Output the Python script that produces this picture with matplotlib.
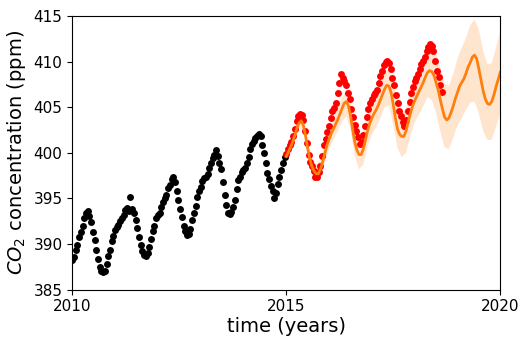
import numpy as np
import matplotlib
matplotlib.use("Agg")
import matplotlib.pyplot as plt

# observed weekly-ish CO2 values, training part (black)
t_train = [2010.00, 2010.04, 2010.08, 2010.12, 2010.16, 2010.20, 2010.24, 2010.28, 2010.32, 2010.36,
           2010.40, 2010.44, 2010.48, 2010.52, 2010.56, 2010.60, 2010.64, 2010.68, 2010.72, 2010.76,
           2010.80, 2010.84, 2010.88, 2010.92, 2010.96, 2011.00, 2011.04, 2011.08, 2011.12, 2011.16,
           2011.20, 2011.24, 2011.28, 2011.32, 2011.36, 2011.40, 2011.44, 2011.48, 2011.52, 2011.56,
           2011.60, 2011.64, 2011.68, 2011.72, 2011.76, 2011.80, 2011.84, 2011.88, 2011.92, 2011.96,
           2012.00, 2012.04, 2012.08, 2012.12, 2012.16, 2012.20, 2012.24, 2012.28, 2012.32, 2012.36,
           2012.40, 2012.44, 2012.48, 2012.52, 2012.56, 2012.60, 2012.64, 2012.68, 2012.72, 2012.76,
           2012.80, 2012.84, 2012.88, 2012.92, 2012.96, 2013.00, 2013.04, 2013.08, 2013.12, 2013.16,
           2013.20, 2013.24, 2013.28, 2013.32, 2013.36, 2013.40, 2013.44, 2013.48, 2013.52, 2013.56,
           2013.60, 2013.64, 2013.68, 2013.72, 2013.76, 2013.80, 2013.84, 2013.88, 2013.92, 2013.96,
           2014.00, 2014.04, 2014.08, 2014.12, 2014.16, 2014.20, 2014.24, 2014.28, 2014.32, 2014.36,
           2014.40, 2014.44, 2014.48, 2014.52, 2014.56, 2014.60, 2014.64, 2014.68, 2014.72, 2014.76,
           2014.80, 2014.84, 2014.88, 2014.92, 2014.96]
co2_train = [388.2, 388.6, 389.3, 389.9, 390.8, 391.3, 392.0, 392.9, 393.4, 393.6,
             393.1, 392.4, 391.3, 390.4, 389.3, 388.4, 387.5, 387.0, 386.9, 387.1,
             387.8, 388.7, 389.4, 390.3, 390.9, 391.5, 391.9, 392.1, 392.5, 392.9,
             393.2, 393.7, 394.0, 393.6, 395.1, 393.8, 393.4, 392.6, 391.8, 390.8,
             389.9, 389.2, 388.8, 388.7, 389.0, 389.7, 390.6, 391.4, 392.0, 392.8,
             393.2, 393.4, 394.1, 394.6, 395.0, 395.4, 396.1, 396.5, 397.1, 397.3,
             396.8, 395.8, 394.8, 393.8, 393.0, 392.0, 391.4, 391.0, 391.1, 391.7,
             392.6, 393.4, 394.2, 395.1, 395.8, 396.3, 396.9, 397.2, 397.3, 397.7,
             398.3, 398.9, 399.4, 399.8, 400.3, 399.7, 398.9, 398.2, 396.8, 395.4,
             394.3, 393.4, 393.3, 393.5, 394.1, 394.8, 396.0, 397.0, 397.3, 397.9,
             398.1, 398.3, 398.9, 399.5, 400.4, 401.0, 401.3, 401.6, 401.8, 402.1,
             401.8, 400.9, 400.0, 398.9, 397.8, 397.1, 396.4, 395.8, 395.0, 395.6,
             396.6, 397.4, 398.1, 398.9, 399.5]

# held out observations (red)
t_test = [2015.00, 2015.04, 2015.08, 2015.12, 2015.16, 2015.20, 2015.24, 2015.28, 2015.32, 2015.36,
          2015.40, 2015.44, 2015.48, 2015.52, 2015.56, 2015.60, 2015.64, 2015.68, 2015.72, 2015.76,
          2015.80, 2015.84, 2015.88, 2015.92, 2015.96, 2016.00, 2016.04, 2016.08, 2016.12, 2016.16,
          2016.20, 2016.24, 2016.28, 2016.32, 2016.36, 2016.40, 2016.44, 2016.48, 2016.52, 2016.56,
          2016.60, 2016.64, 2016.68, 2016.72, 2016.76, 2016.80, 2016.84, 2016.88, 2016.92, 2016.96,
          2017.00, 2017.04, 2017.08, 2017.12, 2017.16, 2017.20, 2017.24, 2017.28, 2017.32, 2017.36,
          2017.40, 2017.44, 2017.48, 2017.52, 2017.56, 2017.60, 2017.64, 2017.68, 2017.72, 2017.76,
          2017.80, 2017.84, 2017.88, 2017.92, 2017.96, 2018.00, 2018.04, 2018.08, 2018.12, 2018.16,
          2018.20, 2018.24, 2018.28, 2018.32, 2018.36, 2018.40, 2018.44, 2018.48, 2018.52, 2018.56,
          2018.60, 2018.64]
co2_test = [399.9, 400.4, 400.8, 401.2, 401.8, 402.6, 403.5, 404.0, 404.3, 404.1,
            403.6, 402.4, 401.1, 399.8, 399.0, 398.5, 398.0, 397.3, 397.4, 397.9,
            398.6, 399.7, 400.9, 401.5, 402.3, 402.9, 403.8, 404.6, 404.9, 405.4,
            406.6, 407.6, 408.6, 408.2, 407.9, 407.4, 406.6, 405.9, 404.8, 403.9,
            403.0, 402.4, 401.7, 401.0, 401.2, 401.9, 402.9, 403.9, 404.8, 405.5,
            405.9, 406.3, 406.5, 406.9, 407.7, 408.4, 409.0, 409.6, 409.9, 410.1,
            409.8, 409.2, 408.2, 407.4, 406.3, 405.4, 404.6, 404.0, 403.4, 402.9,
            403.6, 404.6, 405.6, 406.5, 407.2, 407.9, 408.2, 408.6, 409.2, 409.7,
            410.1, 410.5, 411.1, 411.6, 411.9, 411.7, 411.1, 410.1, 409.0, 408.3,
            407.4, 406.7]

# predictive mean (orange line)
t_pred = [2015.00, 2015.05, 2015.10, 2015.15, 2015.20, 2015.25, 2015.30, 2015.35, 2015.40, 2015.45,
          2015.50, 2015.55, 2015.60, 2015.65, 2015.70, 2015.75, 2015.80, 2015.85, 2015.90, 2015.95,
          2016.00, 2016.05, 2016.10, 2016.15, 2016.20, 2016.25, 2016.30, 2016.35, 2016.40, 2016.45,
          2016.50, 2016.55, 2016.60, 2016.65, 2016.70, 2016.75, 2016.80, 2016.85, 2016.90, 2016.95,
          2017.00, 2017.05, 2017.10, 2017.15, 2017.20, 2017.25, 2017.30, 2017.35, 2017.40, 2017.45,
          2017.50, 2017.55, 2017.60, 2017.65, 2017.70, 2017.75, 2017.80, 2017.85, 2017.90, 2017.95,
          2018.00, 2018.05, 2018.10, 2018.15, 2018.20, 2018.25, 2018.30, 2018.35, 2018.40, 2018.45,
          2018.50, 2018.55, 2018.60, 2018.65, 2018.70, 2018.75, 2018.80, 2018.85, 2018.90, 2018.95,
          2019.00, 2019.05, 2019.10, 2019.15, 2019.20, 2019.25, 2019.30, 2019.35, 2019.40, 2019.45,
          2019.50, 2019.55, 2019.60, 2019.65, 2019.70, 2019.75, 2019.80, 2019.85, 2019.90, 2019.95,
          2020.00]
mu_pred = [399.6, 400.1, 400.6, 401.2, 401.9, 402.7, 403.3, 403.5, 403.0, 401.9,
           400.5, 399.3, 398.5, 398.0, 397.7, 397.7, 398.2, 399.0, 399.9, 400.8,
           401.5, 402.1, 402.6, 403.1, 403.6, 404.2, 404.8, 405.4, 405.6, 405.2,
           404.1, 402.6, 401.2, 400.3, 399.8, 399.8, 400.4, 401.4, 402.4, 403.2,
           403.8, 404.3, 404.7, 405.2, 405.8, 406.4, 407.0, 407.4, 407.3, 406.6,
           405.3, 403.8, 402.6, 402.0, 401.8, 401.8, 402.4, 403.4, 404.3, 405.1,
           405.7, 406.2, 406.7, 407.2, 407.7, 408.3, 408.8, 409.0, 408.9, 408.5,
           407.7, 406.9, 405.8, 404.8, 403.9, 403.6, 403.8, 404.4, 405.1, 405.9,
           406.6, 407.3, 407.7, 408.1, 408.7, 409.4, 409.9, 410.5, 410.7, 410.3,
           409.2, 408.0, 406.8, 405.9, 405.4, 405.3, 405.6, 406.3, 407.2, 408.0,
           408.8]

# uncertainty band edges
t_band = [2015.0, 2015.1, 2015.2, 2015.3, 2015.4, 2015.5, 2015.6, 2015.7, 2015.8, 2015.9,
          2016.0, 2016.1, 2016.2, 2016.3, 2016.4, 2016.5, 2016.6, 2016.7, 2016.8, 2016.9,
          2017.0, 2017.1, 2017.2, 2017.3, 2017.4, 2017.5, 2017.6, 2017.7, 2017.8, 2017.9,
          2018.0, 2018.1, 2018.2, 2018.3, 2018.4, 2018.5, 2018.6, 2018.7, 2018.8, 2018.9,
          2019.0, 2019.1, 2019.2, 2019.3, 2019.4, 2019.5, 2019.6, 2019.7, 2019.8, 2019.9,
          2020.0]
band_hi = [399.8, 400.9, 402.3, 403.8, 403.6, 401.3, 399.4, 398.7, 399.2, 400.9,
           402.6, 403.8, 404.8, 406.0, 406.8, 405.7, 403.0, 401.7, 402.2, 404.2,
           405.6, 406.5, 407.6, 408.8, 409.2, 407.6, 405.2, 404.3, 404.9, 406.8,
           408.2, 409.3, 410.4, 411.6, 411.8, 410.9, 409.4, 407.6, 407.3, 408.6,
           410.3, 411.5, 412.6, 414.0, 414.6, 413.5, 411.2, 409.7, 409.8, 411.5,
           413.3]
band_lo = [399.4, 400.3, 401.5, 402.8, 402.3, 399.8, 397.8, 396.9, 397.3, 398.9,
           400.4, 401.4, 402.3, 403.4, 404.0, 402.6, 399.7, 398.2, 398.7, 400.6,
           402.0, 402.8, 403.8, 405.0, 405.2, 403.0, 400.5, 399.5, 400.0, 401.9,
           403.3, 404.2, 405.1, 406.1, 405.8, 404.4, 402.3, 400.6, 400.4, 401.6,
           403.0, 403.8, 404.7, 405.5, 405.6, 404.3, 402.4, 401.4, 401.4, 402.8,
           404.3]

fig = plt.figure(figsize=(5.2, 3.38), dpi=100)
ax = fig.add_axes([0.139, 0.143, 0.823, 0.810])

tb = np.array(t_band)
ax.fill(np.concatenate([tb, tb[::-1]]),
        np.concatenate([band_hi, band_lo[::-1]]),
        color="C1", alpha=0.2, lw=0)
ax.plot(t_train, co2_train, "o", color="k", ms=5, mew=0)
ax.plot(t_test, co2_test, "o", color="r", ms=5, mew=0)
ax.plot(t_pred, mu_pred, color="C1", lw=2)

ax.set_xlim(2010, 2020)
ax.set_ylim(385, 415)
ax.set_xticks([2010, 2015, 2020])
ax.set_yticks([385, 390, 395, 400, 405, 410, 415])
ax.tick_params(labelsize=11)
ax.set_xlabel("time (years)", fontsize=14, labelpad=2)
ax.set_ylabel(r"$CO_2$ concentration (ppm)", fontsize=14)

fig.savefig("out.png", dpi=100)
